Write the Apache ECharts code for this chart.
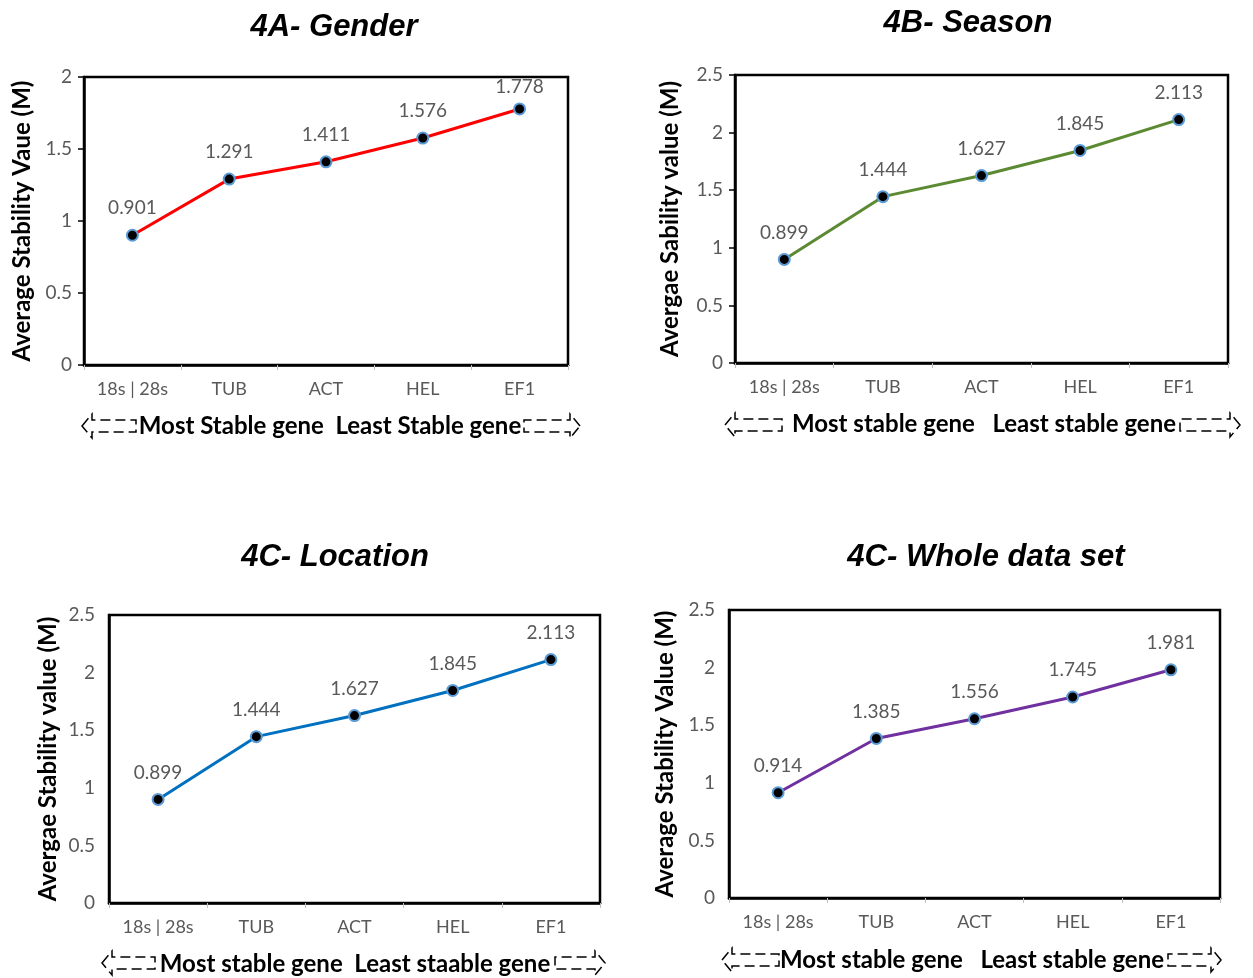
<!DOCTYPE html>
<html>
<head>
<meta charset="utf-8">
<script src="https://cdn.jsdelivr.net/npm/echarts@6/dist/echarts.min.js"></script>
<style>html,body{margin:0;padding:0;background:#fff}#c{width:1253px;height:978px}</style>
</head>
<body>
<div id="c"></div>
<script>
// ---- data ----
var categories = ['18s | 28s', 'TUB', 'ACT', 'HEL', 'EF1'];
var genderValues = [0.901, 1.291, 1.411, 1.576, 1.778];
var seasonValues = [0.899, 1.444, 1.627, 1.845, 2.113];
var locationValues = [0.899, 1.444, 1.627, 1.845, 2.113];
var wholeValues = [0.914, 1.385, 1.556, 1.745, 1.981];
var titles = ['4A- Gender', '4B- Season', '4C- Location', '4C- Whole data set'];
var yNames = ['Average Stability Vaue (M)', 'Avergae Sability value (M)', 'Avergae Stability value (M)', 'Average Stability Value (M)'];
var bottomTexts = ['Most Stable gene  Least Stable gene', 'Most stable gene   Least stable gene', 'Most stable gene  Least staable gene', 'Most stable gene   Least stable gene'];
var yMax = [2, 2.5, 2.5, 2.5];
var lineColors = ['#ff0000', '#5b8a32', '#0070c0', '#7030a0'];
var allValues = [genderValues, seasonValues, locationValues, wholeValues];

// ---- layout ----
var grids = [
  {left: 84, top: 77, width: 484, height: 288},
  {left: 735, top: 75, width: 493, height: 288},
  {left: 109, top: 615, width: 491, height: 288},
  {left: 729, top: 610, width: 491, height: 288}
];
var yNameGaps = [50, 53, 49, 52];
var yTicks = [true, true, false, false];
var titlePos = [[334, 27], [968, 23], [335, 557], [986, 557]];
var bottomPos = [[330, 426], [984, 424], [355, 964], [972, 960]];
var arrowPos = [
  [[82, 136], [524, 580], 426],
  [[725, 782], [1180, 1240], 425],
  [[102, 155], [555, 605], 963],
  [[722, 779], [1168, 1221], 960]
];

var font = 'Lato, "Open Sans", sans-serif';
var option = {
  backgroundColor: '#fff',
  animation: false,
  grid: [], xAxis: [], yAxis: [], series: [], graphic: []
};

function arrowShape(x1, x2, yc, dir) {
  var hw = 10, sh = 6, hh = 12, pts;
  if (dir < 0) {
    pts = [[x1, yc], [x1 + hw, yc - hh], [x1 + hw, yc - sh], [x2, yc - sh], [x2, yc + sh], [x1 + hw, yc + sh], [x1 + hw, yc + hh]];
  } else {
    pts = [[x2, yc], [x2 - hw, yc - hh], [x2 - hw, yc - sh], [x1, yc - sh], [x1, yc + sh], [x2 - hw, yc + sh], [x2 - hw, yc + hh]];
  }
  return {
    type: 'polygon',
    shape: {points: pts},
    style: {fill: 'none', stroke: '#000', lineWidth: 1.5, lineDash: [10, 5]}
  };
}

// keep value labels inside the plot frame (like the source)
function labelDistance(v, max, h) {
  var room = h * (1 - v / max) - 5.5 - 19 - 1;
  return Math.max(2, Math.min(11, room));
}

for (var i = 0; i < 4; i++) {
  option.grid.push(Object.assign({show: true, borderColor: '#000', borderWidth: 2.5, backgroundColor: 'transparent'}, grids[i]));
  option.xAxis.push({
    type: 'category', gridIndex: i, data: categories, boundaryGap: true,
    axisLine: {lineStyle: {color: '#000', width: 2.5}},
    axisTick: {show: true, length: 5, lineStyle: {color: '#bfbfbf'}},
    axisLabel: {color: '#595959', fontSize: 18, fontFamily: font, margin: 15, interval: 0}
  });
  option.yAxis.push({
    type: 'value', gridIndex: i, min: 0, max: yMax[i], interval: 0.5,
    name: yNames[i], nameLocation: 'middle', nameGap: yNameGaps[i],
    nameTextStyle: {color: '#000', fontSize: 24, fontWeight: 'bold', fontFamily: font},
    axisLine: {show: true, lineStyle: {color: '#000', width: 2.5}},
    axisTick: {show: yTicks[i], length: 6, lineStyle: {color: '#000', width: 1.5}},
    splitLine: {show: false},
    axisLabel: {color: '#595959', fontSize: 19, fontFamily: font, margin: yTicks[i] ? 12 : 14}
  });
  var h = grids[i].height, mx = yMax[i];
  option.series.push({
    type: 'line', xAxisIndex: i, yAxisIndex: i,
    data: allValues[i].map(function (v) {
      return {value: v, label: {distance: labelDistance(v, mx, h)}};
    }),
    lineStyle: {color: lineColors[i], width: 3},
    symbol: 'circle', symbolSize: 11,
    itemStyle: {color: '#000', borderColor: '#5b9bd5', borderWidth: 2},
    label: {show: true, position: 'top', distance: 11, color: '#595959', fontSize: 19, fontFamily: font,
      formatter: function (p) { return p.value.toFixed(3); }}
  });
  option.graphic.push({
    type: 'text', x: titlePos[i][0], y: titlePos[i][1],
    style: {text: titles[i], fill: '#000', font: 'italic bold 31px "Liberation Sans", Arial, sans-serif', textAlign: 'center', textVerticalAlign: 'middle'}
  });
  option.graphic.push({
    type: 'text', x: bottomPos[i][0], y: bottomPos[i][1],
    style: {text: bottomTexts[i], fill: '#000', font: 'bold 24px ' + font, textAlign: 'center', textVerticalAlign: 'middle'}
  });
  option.graphic.push(arrowShape(arrowPos[i][0][0], arrowPos[i][0][1], arrowPos[i][2], -1));
  option.graphic.push(arrowShape(arrowPos[i][1][0], arrowPos[i][1][1], arrowPos[i][2], 1));
}

var chart = echarts.init(document.getElementById('c'));
chart.setOption(option);
</script>
</body>
</html>
